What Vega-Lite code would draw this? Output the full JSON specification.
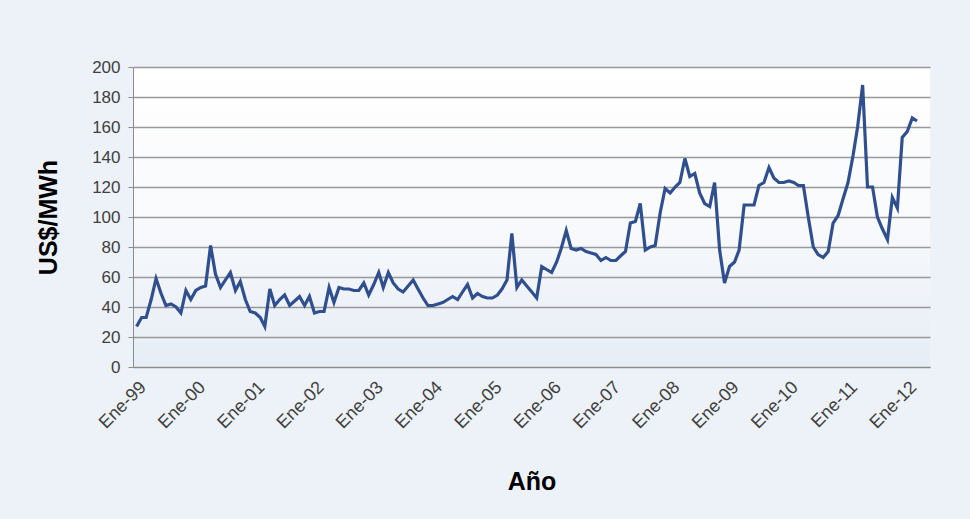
{
  "$schema": "https://vega.github.io/schema/vega-lite/v6.json",
  "width": 797,
  "height": 300,
  "autosize": {"type": "none"},
  "padding": {"left": 133, "top": 67, "right": 40, "bottom": 152},
  "background": "#edf2f8",
  "config": {
    "font": "Liberation Sans",
    "view": {
      "stroke": null,
      "fill": {"gradient": "linear", "x1": 0, "y1": 0, "x2": 0, "y2": 1,
        "stops": [{"offset": 0, "color": "#ffffff"}, {"offset": 0.5, "color": "#f9fafc"}, {"offset": 1, "color": "#e6edf5"}]}
    }
  },
  "data": {"values": [
    {"mes": "1999-01-01", "v": 27}, {"mes": "1999-02-01", "v": 33}, {"mes": "1999-03-01", "v": 33}, {"mes": "1999-04-01", "v": 45},
    {"mes": "1999-05-01", "v": 59}, {"mes": "1999-06-01", "v": 49}, {"mes": "1999-07-01", "v": 41}, {"mes": "1999-08-01", "v": 42},
    {"mes": "1999-09-01", "v": 40}, {"mes": "1999-10-01", "v": 36}, {"mes": "1999-11-01", "v": 51}, {"mes": "1999-12-01", "v": 45},
    {"mes": "2000-01-01", "v": 51}, {"mes": "2000-02-01", "v": 53}, {"mes": "2000-03-01", "v": 54}, {"mes": "2000-04-01", "v": 81},
    {"mes": "2000-05-01", "v": 62}, {"mes": "2000-06-01", "v": 53}, {"mes": "2000-07-01", "v": 58}, {"mes": "2000-08-01", "v": 63},
    {"mes": "2000-09-01", "v": 51}, {"mes": "2000-10-01", "v": 57}, {"mes": "2000-11-01", "v": 45}, {"mes": "2000-12-01", "v": 37},
    {"mes": "2001-01-01", "v": 36}, {"mes": "2001-02-01", "v": 33}, {"mes": "2001-03-01", "v": 27}, {"mes": "2001-04-01", "v": 52},
    {"mes": "2001-05-01", "v": 41}, {"mes": "2001-06-01", "v": 45}, {"mes": "2001-07-01", "v": 48}, {"mes": "2001-08-01", "v": 41},
    {"mes": "2001-09-01", "v": 44}, {"mes": "2001-10-01", "v": 47}, {"mes": "2001-11-01", "v": 41}, {"mes": "2001-12-01", "v": 47},
    {"mes": "2002-01-01", "v": 36}, {"mes": "2002-02-01", "v": 37}, {"mes": "2002-03-01", "v": 37}, {"mes": "2002-04-01", "v": 53},
    {"mes": "2002-05-01", "v": 43}, {"mes": "2002-06-01", "v": 53}, {"mes": "2002-07-01", "v": 52}, {"mes": "2002-08-01", "v": 52},
    {"mes": "2002-09-01", "v": 51}, {"mes": "2002-10-01", "v": 51}, {"mes": "2002-11-01", "v": 56}, {"mes": "2002-12-01", "v": 48},
    {"mes": "2003-01-01", "v": 55}, {"mes": "2003-02-01", "v": 63}, {"mes": "2003-03-01", "v": 53}, {"mes": "2003-04-01", "v": 63},
    {"mes": "2003-05-01", "v": 56}, {"mes": "2003-06-01", "v": 52}, {"mes": "2003-07-01", "v": 50}, {"mes": "2003-08-01", "v": 54},
    {"mes": "2003-09-01", "v": 58}, {"mes": "2003-10-01", "v": 52}, {"mes": "2003-11-01", "v": 46}, {"mes": "2003-12-01", "v": 41},
    {"mes": "2004-01-01", "v": 41}, {"mes": "2004-02-01", "v": 42}, {"mes": "2004-03-01", "v": 43}, {"mes": "2004-04-01", "v": 45},
    {"mes": "2004-05-01", "v": 47}, {"mes": "2004-06-01", "v": 45}, {"mes": "2004-07-01", "v": 50}, {"mes": "2004-08-01", "v": 55},
    {"mes": "2004-09-01", "v": 46}, {"mes": "2004-10-01", "v": 49}, {"mes": "2004-11-01", "v": 47}, {"mes": "2004-12-01", "v": 46},
    {"mes": "2005-01-01", "v": 46}, {"mes": "2005-02-01", "v": 48}, {"mes": "2005-03-01", "v": 52}, {"mes": "2005-04-01", "v": 58},
    {"mes": "2005-05-01", "v": 89}, {"mes": "2005-06-01", "v": 53}, {"mes": "2005-07-01", "v": 58}, {"mes": "2005-08-01", "v": 54},
    {"mes": "2005-09-01", "v": 50}, {"mes": "2005-10-01", "v": 46}, {"mes": "2005-11-01", "v": 67}, {"mes": "2005-12-01", "v": 65},
    {"mes": "2006-01-01", "v": 63}, {"mes": "2006-02-01", "v": 70}, {"mes": "2006-03-01", "v": 79}, {"mes": "2006-04-01", "v": 91},
    {"mes": "2006-05-01", "v": 79}, {"mes": "2006-06-01", "v": 78}, {"mes": "2006-07-01", "v": 79}, {"mes": "2006-08-01", "v": 77},
    {"mes": "2006-09-01", "v": 76}, {"mes": "2006-10-01", "v": 75}, {"mes": "2006-11-01", "v": 71}, {"mes": "2006-12-01", "v": 73},
    {"mes": "2007-01-01", "v": 71}, {"mes": "2007-02-01", "v": 71}, {"mes": "2007-03-01", "v": 74}, {"mes": "2007-04-01", "v": 77},
    {"mes": "2007-05-01", "v": 96}, {"mes": "2007-06-01", "v": 97}, {"mes": "2007-07-01", "v": 109}, {"mes": "2007-08-01", "v": 78},
    {"mes": "2007-09-01", "v": 80}, {"mes": "2007-10-01", "v": 81}, {"mes": "2007-11-01", "v": 103}, {"mes": "2007-12-01", "v": 119},
    {"mes": "2008-01-01", "v": 116}, {"mes": "2008-02-01", "v": 120}, {"mes": "2008-03-01", "v": 123}, {"mes": "2008-04-01", "v": 139},
    {"mes": "2008-05-01", "v": 127}, {"mes": "2008-06-01", "v": 129}, {"mes": "2008-07-01", "v": 116}, {"mes": "2008-08-01", "v": 109},
    {"mes": "2008-09-01", "v": 107}, {"mes": "2008-10-01", "v": 123}, {"mes": "2008-11-01", "v": 78}, {"mes": "2008-12-01", "v": 56},
    {"mes": "2009-01-01", "v": 67}, {"mes": "2009-02-01", "v": 70}, {"mes": "2009-03-01", "v": 78}, {"mes": "2009-04-01", "v": 108},
    {"mes": "2009-05-01", "v": 108}, {"mes": "2009-06-01", "v": 108}, {"mes": "2009-07-01", "v": 121}, {"mes": "2009-08-01", "v": 123},
    {"mes": "2009-09-01", "v": 133}, {"mes": "2009-10-01", "v": 126}, {"mes": "2009-11-01", "v": 123}, {"mes": "2009-12-01", "v": 123},
    {"mes": "2010-01-01", "v": 124}, {"mes": "2010-02-01", "v": 123}, {"mes": "2010-03-01", "v": 121}, {"mes": "2010-04-01", "v": 121},
    {"mes": "2010-05-01", "v": 100}, {"mes": "2010-06-01", "v": 80}, {"mes": "2010-07-01", "v": 75}, {"mes": "2010-08-01", "v": 73},
    {"mes": "2010-09-01", "v": 77}, {"mes": "2010-10-01", "v": 96}, {"mes": "2010-11-01", "v": 101}, {"mes": "2010-12-01", "v": 112},
    {"mes": "2011-01-01", "v": 123}, {"mes": "2011-02-01", "v": 141}, {"mes": "2011-03-01", "v": 160}, {"mes": "2011-04-01", "v": 188},
    {"mes": "2011-05-01", "v": 120}, {"mes": "2011-06-01", "v": 120}, {"mes": "2011-07-01", "v": 100}, {"mes": "2011-08-01", "v": 92},
    {"mes": "2011-09-01", "v": 85}, {"mes": "2011-10-01", "v": 113}, {"mes": "2011-11-01", "v": 106}, {"mes": "2011-12-01", "v": 153},
    {"mes": "2012-01-01", "v": 157}, {"mes": "2012-02-01", "v": 166}, {"mes": "2012-03-01", "v": 164}
  ]},
  "mark": {"type": "line", "color": "#2f4f8e", "strokeWidth": 3.2},
  "encoding": {
    "x": {
      "field": "mes",
      "type": "temporal",
      "scale": {"type": "utc", "domain": [{"year": 1998, "month": 12, "date": 10, "utc": true}, {"year": 2012, "month": 5, "date": 20, "utc": true}]},
      "axis": {
        "title": "Año",
        "tickCount": {"interval": "year", "step": 1},
        "labelExpr": "'Ene-' + utcFormat(datum.value, '%y')",
        "labelAngle": -45,
        "labelFontSize": 18,
        "labelColor": "#404040",
        "labelPadding": 11,
        "labelFlush": false,
        "labelOverlap": false,
        "grid": false,
        "ticks": false,
        "domainColor": "#8c8c8c",
        "titleFontSize": 25,
        "titleFontWeight": "bold",
        "titleColor": "#000000",
        "titlePadding": 38
      }
    },
    "y": {
      "field": "v",
      "type": "quantitative",
      "scale": {"domain": [0, 200], "nice": false},
      "axis": {
        "title": "US$/MWh",
        "values": [0, 20, 40, 60, 80, 100, 120, 140, 160, 180, 200],
        "labelFontSize": 17,
        "labelColor": "#404040",
        "labelPadding": 8,
        "tickSize": 5,
        "tickColor": "#8c8c8c",
        "domainColor": "#8c8c8c",
        "grid": true,
        "gridColor": "#999999",
        "gridWidth": 1.3,
        "titleFontSize": 25,
        "titleFontWeight": "bold",
        "titleColor": "#000000",
        "titlePadding": 30
      }
    }
  }
}
